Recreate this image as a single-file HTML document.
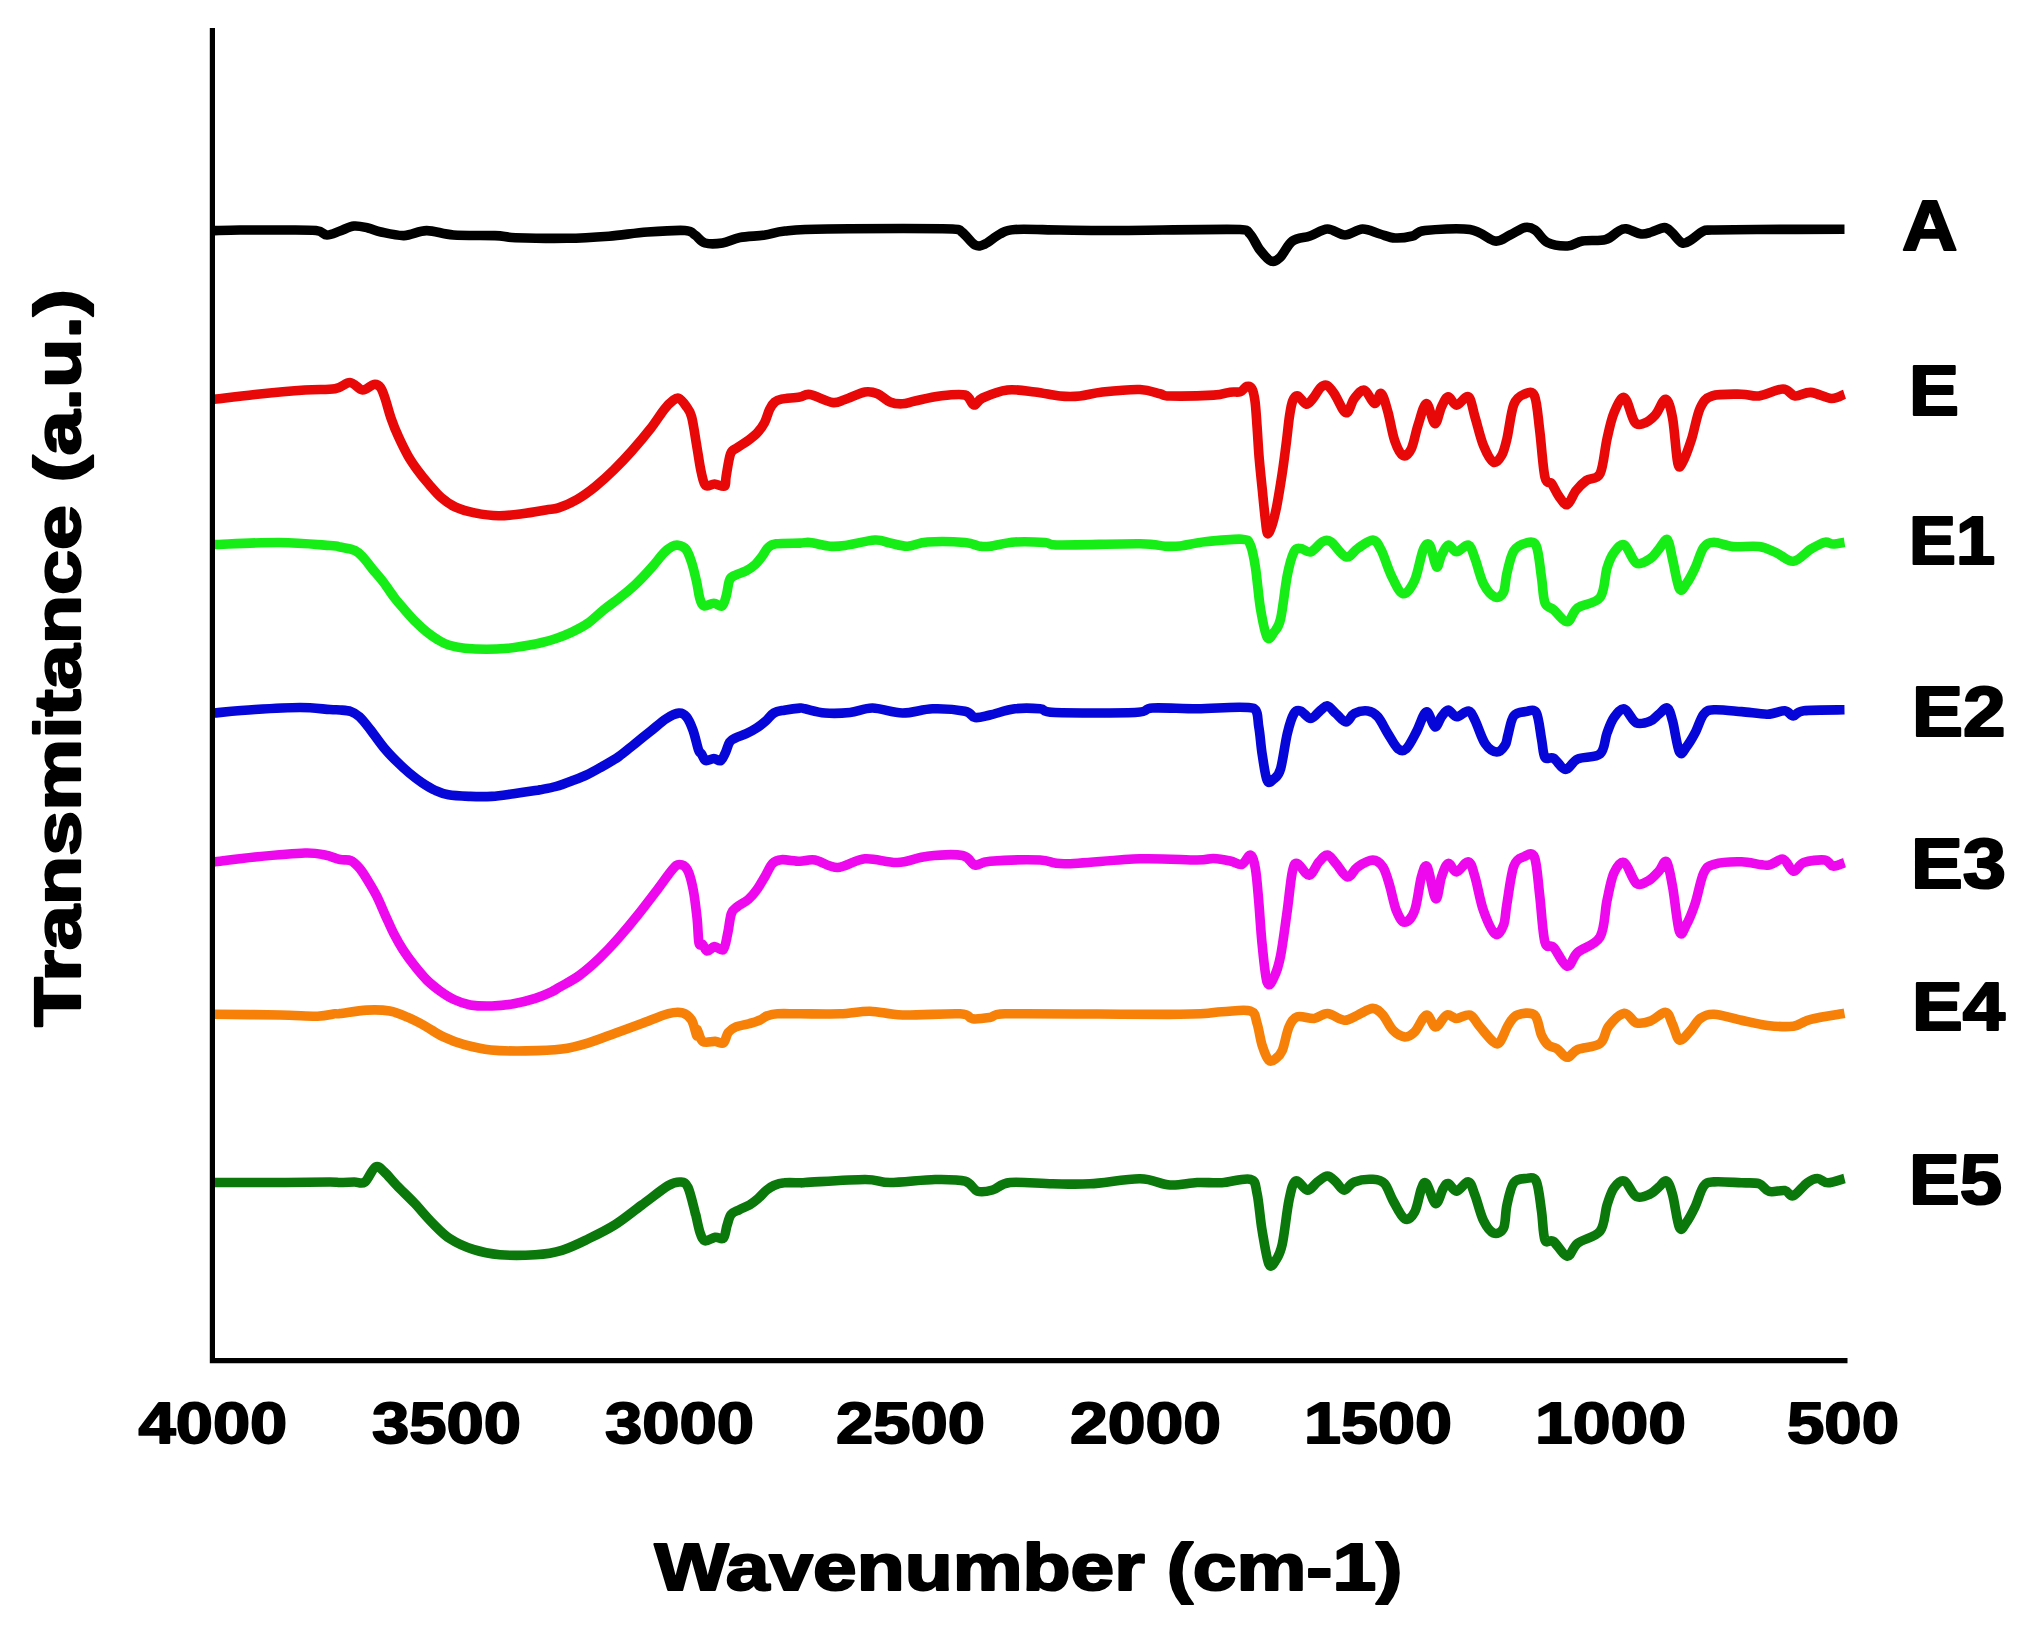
<!DOCTYPE html>
<html><head><meta charset="utf-8"><title>FTIR spectra</title>
<style>
html,body{margin:0;padding:0;background:#fff;}
body{width:2028px;height:1630px;overflow:hidden;}
svg{display:block;}
text{font-family:"Liberation Sans",Arial,sans-serif;font-weight:bold;fill:#000;stroke:#000;stroke-linejoin:round;}
</style></head><body>
<svg width="2028" height="1630" viewBox="0 0 2028 1630">
<rect width="2028" height="1630" fill="#fff"/>
<g fill="none" stroke-width="9.6" stroke-linejoin="round" stroke-linecap="butt">
<path d="M214.3 230.6 C218.6 230.5 229.1 230.1 240.0 230.0 C250.9 229.9 267.3 229.9 280.0 230.0 C292.7 230.1 308.2 229.7 316.0 230.5 C323.8 231.3 323.0 234.9 327.0 235.0 C331.0 235.1 335.5 232.5 340.0 231.0 C344.5 229.5 349.3 226.5 354.0 226.0 C358.7 225.5 363.5 227.0 368.0 228.0 C372.5 229.0 375.0 230.7 381.0 232.0 C387.0 233.3 396.4 235.8 404.0 235.6 C411.6 235.4 418.4 230.7 426.6 230.6 C434.9 230.5 442.1 234.2 453.5 235.0 C464.9 235.8 484.6 235.2 495.0 235.6 C505.4 236.0 503.6 237.2 515.6 237.7 C527.6 238.1 551.4 238.6 567.0 238.3 C582.6 238.1 595.6 237.2 609.0 236.2 C622.4 235.1 634.8 232.9 647.5 232.0 C660.2 231.1 677.1 230.0 685.0 230.5 C692.9 231.0 691.7 232.9 695.0 235.0 C698.3 237.1 700.4 241.7 705.0 243.0 C709.6 244.3 716.7 243.9 722.5 243.0 C728.3 242.1 732.9 238.8 740.0 237.5 C747.1 236.2 757.5 236.1 765.0 235.0 C772.5 233.9 774.6 232.0 785.0 231.0 C795.4 230.0 799.6 229.3 827.5 229.0 C855.4 228.7 930.0 228.4 952.5 229.0 C962.5 229.6 958.8 229.8 962.5 232.5 C966.2 235.2 971.2 243.1 975.0 245.0 C978.8 246.9 980.8 245.8 985.0 244.0 C989.2 242.2 995.0 236.4 1000.0 234.0 C1005.0 231.6 1005.0 230.2 1015.0 229.5 C1025.0 228.8 1043.0 229.8 1060.0 230.0 C1077.0 230.2 1087.0 230.6 1117.0 230.5 C1147.0 230.4 1217.8 228.9 1240.0 229.5 C1250.0 230.1 1246.7 230.6 1250.0 234.0 C1253.3 237.4 1256.5 245.5 1260.0 250.0 C1263.5 254.5 1267.7 259.8 1271.0 261.0 C1274.3 262.2 1276.4 260.8 1280.0 257.5 C1283.6 254.2 1287.5 244.6 1292.5 241.0 C1297.5 237.4 1304.2 238.0 1310.0 236.0 C1315.8 234.0 1321.7 229.2 1327.5 229.0 C1333.3 228.8 1339.2 235.0 1345.0 235.0 C1350.8 235.0 1356.7 229.2 1362.5 229.0 C1368.3 228.8 1374.6 232.5 1380.0 234.0 C1385.4 235.5 1389.6 237.7 1395.0 238.0 C1400.4 238.3 1407.5 237.2 1412.5 236.0 C1417.5 234.8 1415.4 231.6 1425.0 230.5 C1434.6 229.4 1458.3 227.8 1470.0 229.5 C1481.7 231.2 1488.3 240.1 1495.0 241.0 C1501.7 241.9 1505.0 237.2 1510.0 235.0 C1515.0 232.8 1520.8 228.3 1525.0 227.5 C1529.2 226.7 1531.2 227.5 1535.0 230.0 C1538.8 232.5 1542.1 239.8 1547.5 242.5 C1552.9 245.2 1561.7 246.2 1567.5 246.0 C1573.3 245.8 1576.2 242.1 1582.5 241.0 C1588.8 239.9 1599.5 241.3 1605.4 239.7 C1611.4 238.1 1614.8 233.2 1618.2 231.4 C1621.6 229.6 1622.2 228.4 1626.0 228.8 C1629.8 229.2 1637.0 233.5 1641.3 234.0 C1645.5 234.5 1647.7 233.1 1651.5 232.0 C1655.3 230.9 1661.0 227.5 1664.4 227.6 C1667.8 227.7 1669.0 230.1 1672.0 232.7 C1675.0 235.3 1679.1 241.8 1682.3 243.0 C1685.5 244.2 1687.9 241.6 1691.3 239.7 C1694.7 237.8 1699.4 233.0 1702.8 231.4 C1706.2 229.8 1702.8 230.3 1711.8 230.0 C1720.8 229.7 1734.6 229.6 1756.7 229.5 C1778.8 229.4 1829.9 229.2 1844.5 229.2" stroke="#000000"/>
<path d="M212.5 399.5 C219.6 398.7 239.6 396.1 255.0 394.5 C270.4 392.9 291.7 390.9 305.0 390.0 C318.3 389.1 327.5 390.1 335.0 388.8 C342.5 387.6 345.4 382.3 350.0 382.5 C354.6 382.7 358.5 389.7 362.5 390.0 C366.5 390.3 370.8 384.9 373.8 384.5 C376.8 384.1 378.6 385.0 380.5 387.4 C382.4 389.8 383.5 393.7 385.2 398.8 C386.9 403.9 388.7 411.5 390.9 417.8 C393.1 424.1 395.6 430.5 398.5 436.8 C401.4 443.1 404.8 450.2 408.0 455.8 C411.2 461.4 414.0 465.3 417.5 470.1 C421.0 474.9 425.0 479.8 429.0 484.4 C433.0 489.0 436.9 493.9 441.3 497.7 C445.7 501.5 450.1 504.7 455.6 507.2 C461.2 509.7 467.5 511.5 474.6 512.9 C481.7 514.3 490.5 515.6 498.4 515.7 C506.3 515.9 514.2 514.8 522.1 513.8 C530.0 512.8 539.9 511.0 545.9 510.0 C551.9 509.0 553.2 509.6 558.4 507.9 C563.5 506.2 570.7 503.1 576.8 499.6 C582.9 496.1 589.1 491.6 595.2 486.7 C601.3 481.8 607.5 476.2 613.6 470.2 C619.7 464.2 625.9 457.7 632.0 450.8 C638.1 443.9 645.0 435.7 650.4 428.8 C655.8 421.9 660.4 414.2 664.2 409.4 C668.0 404.6 671.0 402.0 673.4 400.2 C675.8 398.4 676.8 397.5 678.9 398.4 C681.0 399.3 683.7 402.7 685.8 405.8 C687.9 408.9 689.8 410.1 691.6 416.8 C693.4 423.5 695.2 437.0 696.8 446.2 C698.4 455.4 699.7 465.4 701.2 472.0 C702.7 478.6 703.4 483.5 705.6 485.5 C707.8 487.5 711.3 483.9 714.5 484.0 C717.7 484.1 722.8 487.3 724.8 486.0 C726.2 484.7 725.2 481.4 726.2 476.0 C727.2 470.6 728.8 458.3 730.6 453.6 C732.5 448.9 734.3 449.9 737.3 447.7 C740.2 445.5 745.0 442.8 748.3 440.3 C751.6 437.9 754.4 435.9 757.1 433.0 C759.8 430.1 762.4 426.6 764.5 422.7 C766.6 418.8 767.9 412.8 769.6 409.4 C771.3 405.9 772.8 403.7 774.8 402.0 C776.8 400.3 777.2 399.9 781.4 399.1 C785.6 398.3 795.0 397.8 799.8 397.0 C804.6 396.2 804.5 393.6 810.0 394.5 C815.5 395.4 826.7 401.7 832.5 402.5 C838.3 403.3 839.6 401.2 845.0 399.5 C850.4 397.8 859.6 392.9 865.0 392.0 C870.4 391.1 873.3 392.1 877.5 393.8 C881.7 395.5 885.8 400.3 890.0 402.0 C894.2 403.7 898.3 404.0 902.5 403.8 C906.7 403.6 908.8 402.3 915.0 401.0 C921.2 399.7 931.7 397.0 940.0 396.0 C948.3 395.0 959.4 393.5 965.0 395.0 C970.6 396.5 970.9 404.5 973.8 405.0 C976.7 405.5 976.9 400.5 982.5 398.0 C988.1 395.5 998.8 391.0 1007.5 390.0 C1016.2 389.0 1026.2 391.0 1035.0 392.0 C1043.8 393.0 1052.5 395.3 1060.0 396.0 C1067.5 396.7 1072.9 396.7 1080.0 396.0 C1087.1 395.3 1092.5 393.1 1102.5 392.0 C1112.5 390.9 1130.4 389.2 1140.0 389.5 C1149.6 389.8 1155.0 392.7 1160.0 393.8 C1165.0 394.9 1161.1 395.8 1170.0 396.0 C1178.9 396.2 1203.5 395.7 1213.5 395.1 C1223.5 394.5 1225.5 392.8 1230.0 392.2 C1234.5 391.6 1237.6 392.6 1240.4 391.7 C1243.2 390.8 1244.8 387.0 1246.7 386.5 C1248.6 386.0 1250.5 386.2 1251.9 388.6 C1253.3 391.0 1254.1 394.7 1255.0 401.1 C1255.9 407.5 1256.4 417.6 1257.1 427.1 C1257.8 436.7 1258.3 448.0 1259.2 458.4 C1260.1 468.8 1261.2 479.3 1262.3 489.7 C1263.3 500.1 1264.6 513.7 1265.5 521.0 C1266.4 528.3 1266.5 532.6 1267.5 533.5 C1268.5 534.4 1270.1 530.9 1271.7 526.2 C1273.3 521.5 1275.2 514.0 1276.9 505.3 C1278.6 496.6 1280.5 484.5 1282.1 474.1 C1283.7 463.7 1285.1 452.4 1286.3 442.8 C1287.5 433.2 1288.4 423.6 1289.4 416.7 C1290.5 409.8 1291.2 404.6 1292.6 401.1 C1294.0 397.6 1295.5 395.4 1297.8 395.9 C1300.0 396.4 1303.5 403.9 1306.1 404.2 C1308.7 404.5 1311.0 400.7 1313.4 397.9 C1315.8 395.1 1318.4 389.6 1320.7 387.5 C1323.0 385.4 1324.8 384.4 1327.0 385.4 C1329.2 386.4 1331.0 388.9 1334.2 393.5 C1337.4 398.1 1342.7 411.9 1346.0 412.7 C1349.3 413.5 1351.2 402.3 1354.3 398.5 C1357.4 394.7 1361.0 389.3 1364.4 390.1 C1367.8 390.9 1371.7 402.9 1374.5 403.5 C1377.3 404.1 1379.0 392.1 1381.2 393.5 C1383.4 394.9 1385.7 404.1 1387.9 411.9 C1390.1 419.7 1392.1 433.1 1394.6 440.4 C1397.1 447.7 1400.2 454.1 1403.0 455.5 C1405.8 456.9 1408.8 453.8 1411.3 448.8 C1413.8 443.8 1415.5 432.9 1418.0 425.3 C1420.5 417.8 1423.6 403.8 1426.4 403.5 C1429.2 403.2 1432.3 423.0 1434.8 423.6 C1437.3 424.2 1439.3 411.4 1441.5 406.9 C1443.7 402.4 1445.7 397.1 1448.2 396.8 C1450.7 396.5 1453.2 405.2 1456.6 405.2 C1460.0 405.2 1465.3 394.8 1468.4 396.8 C1471.5 398.8 1472.5 408.9 1475.0 417.0 C1477.5 425.1 1480.3 437.9 1483.4 445.4 C1486.5 452.9 1490.4 460.6 1493.5 462.2 C1496.6 463.8 1499.7 458.9 1501.9 455.0 C1504.1 451.1 1504.9 447.4 1506.9 439.0 C1508.9 430.6 1510.9 412.0 1513.8 404.5 C1516.7 397.0 1520.8 395.6 1524.2 394.2 C1527.7 392.8 1531.9 389.9 1534.5 395.9 C1537.1 401.9 1538.0 416.9 1539.7 430.4 C1541.4 443.9 1542.9 468.1 1544.9 477.0 C1546.9 485.9 1549.5 480.7 1551.8 483.9 C1554.1 487.1 1556.1 492.6 1558.7 496.0 C1561.3 499.4 1564.4 505.5 1567.3 504.6 C1570.2 503.7 1572.7 494.8 1575.9 490.8 C1579.1 486.8 1582.3 483.4 1586.3 480.5 C1590.3 477.6 1596.6 480.5 1600.1 473.6 C1603.5 466.7 1604.7 449.1 1607.0 439.0 C1609.3 428.9 1611.0 420.0 1613.9 413.1 C1616.8 406.2 1620.8 396.2 1624.3 397.6 C1627.8 399.1 1631.4 417.5 1634.6 421.8 C1637.8 426.1 1639.8 424.6 1643.3 423.5 C1646.8 422.4 1651.6 418.9 1655.3 414.9 C1659.0 410.9 1662.8 398.7 1665.7 399.3 C1668.6 399.9 1670.6 407.7 1672.6 418.3 C1674.6 428.9 1676.1 456.0 1677.8 463.2 C1679.5 470.4 1680.7 465.5 1683.0 461.5 C1685.3 457.5 1688.7 447.9 1691.6 439.0 C1694.5 430.1 1696.8 415.2 1700.2 408.0 C1703.7 400.8 1705.4 398.2 1712.3 395.9 C1719.2 393.6 1733.8 394.2 1741.6 394.2 C1749.4 394.2 1752.0 396.8 1758.9 395.9 C1765.8 395.0 1777.0 389.0 1783.0 389.0 C1789.0 389.0 1790.5 395.3 1795.1 395.9 C1799.7 396.5 1804.7 392.0 1810.7 392.4 C1816.8 392.8 1825.8 398.2 1831.4 398.5 C1837.0 398.8 1842.3 394.9 1844.5 394.2" stroke="#e80808"/>
<path d="M213.8 544.5 C224.8 544.2 260.6 542.3 280.0 542.5 C299.4 542.7 320.0 544.8 330.0 545.5 C340.0 546.2 335.8 546.1 340.0 547.0 C344.2 547.9 351.2 548.7 355.2 550.6 C359.2 552.5 361.0 555.1 363.9 558.2 C366.8 561.3 369.2 565.1 372.5 569.1 C375.8 573.1 379.8 577.4 383.4 582.1 C387.0 586.8 390.6 592.6 394.2 597.3 C397.8 602.0 401.5 606.1 405.1 610.3 C408.7 614.4 412.3 618.6 415.9 622.2 C419.5 625.8 423.2 629.1 426.8 632.0 C430.4 634.9 434.0 637.4 437.6 639.6 C441.2 641.8 444.0 643.6 448.5 645.0 C453.0 646.4 458.5 647.5 464.8 648.2 C471.1 648.9 479.3 649.3 486.5 649.3 C493.7 649.3 500.9 648.9 508.1 648.2 C515.3 647.5 524.1 646.0 529.8 645.0 C535.4 644.0 537.6 643.6 542.0 642.5 C546.4 641.4 551.0 640.2 556.0 638.5 C561.0 636.8 566.6 634.6 571.9 632.1 C577.2 629.6 582.5 627.0 587.8 623.3 C593.1 619.6 598.5 614.0 603.8 609.7 C609.1 605.5 614.4 602.0 619.7 597.8 C625.0 593.5 630.4 589.2 635.7 584.2 C641.0 579.2 647.0 572.7 651.6 567.5 C656.2 562.3 660.3 556.6 663.6 553.1 C666.9 549.6 669.2 548.0 671.6 546.7 C674.0 545.4 675.6 544.8 678.0 545.2 C680.4 545.6 683.6 546.3 685.9 549.1 C688.1 551.9 689.7 556.5 691.5 561.9 C693.3 567.3 695.2 575.6 696.6 581.8 C698.0 588.0 698.7 595.0 700.0 599.0 C701.3 603.0 701.9 605.3 704.2 606.0 C706.5 606.7 710.8 603.2 713.8 603.2 C716.8 603.2 720.0 607.3 722.1 606.0 C724.2 604.7 725.0 600.0 726.3 595.6 C727.6 591.2 728.1 583.2 729.7 579.7 C731.3 576.2 733.1 576.4 735.9 574.9 C738.7 573.4 743.1 572.4 746.3 570.7 C749.5 569.0 752.6 566.9 755.3 564.5 C757.9 562.1 760.1 559.0 762.2 556.2 C764.3 553.5 765.4 550.1 767.7 548.0 C770.0 545.9 770.6 544.6 776.0 543.8 C781.4 543.0 794.3 543.3 800.0 543.1 C805.7 542.9 805.0 542.0 810.0 542.5 C815.0 543.0 824.2 545.7 830.0 546.2 C835.8 546.7 837.5 546.5 845.0 545.5 C852.5 544.5 867.5 540.4 875.0 540.0 C882.5 539.6 884.6 542.0 890.0 543.0 C895.4 544.0 901.2 546.4 907.5 546.2 C913.8 546.0 917.9 542.6 927.5 542.0 C937.1 541.4 956.2 541.8 965.0 542.5 C973.8 543.2 975.8 545.6 980.0 546.2 C984.2 546.8 984.2 546.9 990.0 546.2 C995.8 545.5 1005.8 542.6 1015.0 542.0 C1024.2 541.4 1037.5 542.0 1045.0 542.5 C1052.5 543.0 1045.0 544.8 1060.0 545.0 C1075.8 545.2 1122.5 543.6 1140.0 543.8 C1157.5 544.0 1158.3 545.8 1165.0 546.2 C1171.7 546.6 1173.3 546.7 1180.0 546.0 C1186.7 545.3 1194.8 542.9 1205.1 541.8 C1215.4 540.7 1234.5 538.7 1242.0 539.2 C1249.5 539.8 1248.2 540.5 1250.4 545.1 C1252.6 549.7 1253.7 556.3 1255.4 566.9 C1257.1 577.5 1258.5 597.1 1260.5 608.8 C1262.5 620.5 1265.0 633.4 1267.2 637.3 C1269.4 641.2 1271.7 635.4 1273.9 632.3 C1276.1 629.2 1278.4 628.4 1280.6 618.9 C1282.8 609.4 1285.1 586.5 1287.3 575.3 C1289.5 564.1 1291.8 556.3 1294.0 551.8 C1296.2 547.3 1297.9 548.5 1300.7 548.5 C1303.5 548.5 1307.2 552.9 1310.8 551.8 C1314.4 550.7 1319.2 543.5 1322.5 541.8 C1325.8 540.1 1327.0 539.3 1330.9 541.8 C1334.8 544.3 1341.5 555.8 1346.0 556.9 C1350.5 558.0 1353.2 551.3 1357.7 548.5 C1362.2 545.7 1368.9 539.8 1372.8 540.1 C1376.7 540.4 1378.1 544.2 1381.2 550.1 C1384.3 556.0 1387.6 568.0 1391.2 575.3 C1394.8 582.6 1399.1 592.9 1403.0 593.7 C1406.9 594.5 1411.4 587.6 1414.7 580.3 C1418.0 573.0 1420.6 556.0 1423.1 550.1 C1425.6 544.2 1427.6 542.3 1429.8 545.1 C1432.0 547.9 1434.5 565.2 1436.5 566.9 C1438.5 568.6 1439.5 558.8 1441.5 555.2 C1443.5 551.6 1445.7 545.7 1448.2 545.1 C1450.7 544.5 1453.2 551.8 1456.6 551.8 C1460.0 551.8 1465.3 544.0 1468.4 545.1 C1471.5 546.2 1472.5 552.1 1475.0 558.5 C1477.5 564.9 1480.0 577.3 1483.4 583.7 C1486.8 590.1 1491.8 595.7 1495.2 597.1 C1498.6 598.5 1501.6 596.0 1503.6 592.0 C1505.5 588.0 1505.2 580.1 1506.9 573.3 C1508.6 566.4 1510.6 555.9 1513.8 550.9 C1517.0 545.9 1522.2 544.0 1525.9 543.1 C1529.6 542.2 1533.6 540.1 1536.2 545.7 C1538.8 551.3 1540.0 567.3 1541.4 576.8 C1542.9 586.3 1542.9 597.2 1544.9 602.7 C1546.9 608.2 1549.8 606.4 1553.5 609.6 C1557.2 612.8 1563.3 622.0 1567.3 621.7 C1571.3 621.4 1572.2 611.8 1577.7 607.8 C1583.2 603.8 1595.2 604.1 1600.1 597.5 C1605.0 590.9 1604.7 575.6 1607.0 568.1 C1609.3 560.6 1611.0 556.5 1613.9 552.6 C1616.8 548.7 1620.6 543.1 1624.3 544.8 C1628.0 546.5 1632.0 560.7 1636.3 563.0 C1640.6 565.3 1646.5 561.0 1650.2 558.7 C1654.0 556.4 1655.9 552.4 1658.8 549.2 C1661.7 546.0 1665.1 538.0 1667.4 539.7 C1669.7 541.4 1670.6 551.3 1672.6 559.5 C1674.6 567.7 1677.2 584.9 1679.5 588.9 C1681.8 592.9 1683.8 587.2 1686.4 583.7 C1689.0 580.2 1692.1 574.2 1695.0 568.1 C1697.9 562.0 1700.5 551.7 1703.7 547.4 C1706.9 543.1 1709.1 542.4 1714.0 542.3 C1718.9 542.2 1725.5 545.9 1733.0 546.6 C1740.5 547.3 1751.7 545.6 1758.9 546.6 C1766.1 547.6 1770.3 550.2 1776.1 552.6 C1781.8 555.0 1787.6 561.8 1793.4 561.2 C1799.2 560.6 1805.5 552.4 1810.7 549.2 C1815.9 546.1 1820.8 543.2 1824.5 542.3 C1828.2 541.4 1829.8 544.0 1833.1 544.0 C1836.4 544.0 1842.6 542.6 1844.5 542.3" stroke="#16ec16"/>
<path d="M213.8 713.0 C220.7 712.4 240.6 710.4 255.0 709.5 C269.4 708.6 287.5 707.5 300.0 707.5 C312.5 707.5 323.3 709.1 330.0 709.5 C336.7 709.9 336.5 709.7 340.0 710.0 C343.5 710.3 347.6 710.4 350.8 711.5 C354.1 712.6 356.2 713.7 359.5 716.7 C362.8 719.7 366.4 724.6 370.4 729.7 C374.4 734.8 379.1 741.9 383.4 747.1 C387.7 752.4 392.1 756.9 396.4 761.2 C400.7 765.5 405.1 769.5 409.4 773.1 C413.7 776.7 418.0 780.0 422.4 782.9 C426.8 785.8 431.1 788.5 435.5 790.5 C439.9 792.5 442.7 793.8 448.5 794.8 C454.3 795.8 463.0 796.1 470.2 796.4 C477.4 796.7 484.7 796.8 491.9 796.4 C499.1 796.0 506.4 794.7 513.6 793.7 C520.8 792.7 530.9 791.1 535.3 790.5 C539.7 789.9 536.6 790.5 540.0 789.8 C543.4 789.1 550.5 788.0 555.8 786.5 C561.1 785.0 566.4 783.0 571.6 781.0 C576.9 779.0 582.0 777.2 587.3 774.7 C592.5 772.2 597.8 769.0 603.1 766.0 C608.4 763.0 613.6 760.2 618.9 756.5 C624.2 752.8 629.4 748.1 634.7 743.9 C640.0 739.7 645.2 735.5 650.5 731.3 C655.8 727.1 661.5 721.7 666.2 718.7 C670.9 715.7 675.5 713.4 678.9 713.1 C682.3 712.8 684.3 714.2 686.7 717.1 C689.1 720.0 691.1 725.0 693.1 730.5 C695.1 736.0 697.2 746.3 698.6 750.2 C700.0 754.1 700.2 752.0 701.4 753.7 C702.6 755.4 703.5 759.8 705.6 760.6 C707.7 761.4 711.3 758.5 713.8 758.5 C716.3 758.5 718.7 761.6 720.7 760.6 C722.7 759.6 724.1 755.4 725.6 752.3 C727.1 749.2 728.0 744.3 729.7 741.9 C731.4 739.5 733.1 739.2 735.9 737.8 C738.7 736.4 742.8 735.3 746.3 733.7 C749.8 732.1 753.4 730.2 756.6 728.1 C759.8 726.0 762.7 723.7 765.6 721.2 C768.5 718.7 770.8 714.8 773.9 713.0 C777.0 711.2 779.9 711.0 784.3 710.2 C788.6 709.4 796.5 708.3 800.0 708.1 C803.5 707.9 800.8 708.0 805.0 708.8 C809.2 709.6 817.5 712.4 825.0 713.0 C832.5 713.6 842.1 713.3 850.0 712.5 C857.9 711.7 863.8 707.9 872.5 708.0 C881.2 708.1 892.5 712.9 902.5 713.0 C912.5 713.1 922.1 709.1 932.5 708.8 C942.9 708.5 957.9 709.8 965.0 711.2 C972.1 712.7 970.8 716.9 975.0 717.5 C979.2 718.1 983.3 716.5 990.0 715.0 C996.7 713.5 1006.7 709.8 1015.0 708.8 C1023.3 707.8 1033.3 708.2 1040.0 708.8 C1046.7 709.4 1040.0 711.9 1055.0 712.5 C1070.8 713.1 1118.8 713.2 1135.0 712.5 C1151.2 711.8 1142.2 708.6 1152.5 708.0 C1162.8 707.4 1180.1 708.7 1197.0 708.8 C1213.9 708.9 1243.5 705.4 1253.8 708.4 C1258.8 711.4 1257.4 719.3 1258.8 726.9 C1260.2 734.5 1260.7 744.8 1262.1 753.7 C1263.5 762.6 1265.2 776.3 1267.2 780.5 C1269.2 784.7 1271.7 780.9 1273.9 778.9 C1276.1 776.9 1278.4 776.3 1280.6 768.8 C1282.8 761.2 1285.1 742.8 1287.3 733.6 C1289.5 724.4 1291.8 717.3 1294.0 713.5 C1296.2 709.7 1297.9 710.2 1300.7 711.0 C1303.5 711.8 1307.5 718.6 1310.8 718.5 C1314.1 718.4 1318.0 712.2 1320.8 710.1 C1323.6 708.0 1325.0 705.3 1327.5 705.9 C1330.0 706.5 1332.8 710.8 1335.9 713.5 C1339.0 716.2 1342.9 721.9 1346.0 721.9 C1349.1 721.9 1350.7 715.3 1354.3 713.5 C1357.9 711.7 1363.9 710.5 1367.8 711.0 C1371.7 711.5 1374.4 713.0 1377.8 716.8 C1381.2 720.6 1384.5 728.3 1387.9 733.6 C1391.3 738.9 1394.9 746.2 1398.0 748.7 C1401.1 751.2 1403.2 751.5 1406.3 748.7 C1409.4 745.9 1413.1 738.0 1416.4 731.9 C1419.8 725.8 1423.3 712.6 1426.4 711.8 C1429.5 711.0 1432.3 726.1 1434.8 726.9 C1437.3 727.7 1439.3 719.6 1441.5 716.8 C1443.7 714.0 1445.7 710.1 1448.2 710.1 C1450.7 710.1 1453.2 716.6 1456.6 716.8 C1460.0 716.9 1465.3 710.4 1468.4 711.0 C1471.5 711.6 1472.2 714.8 1475.0 720.2 C1477.8 725.6 1481.5 738.3 1485.1 743.6 C1488.7 748.9 1493.4 751.8 1496.8 752.0 C1500.2 752.2 1503.3 747.9 1505.2 745.0 C1507.1 742.1 1506.6 739.8 1508.0 734.9 C1509.4 730.0 1510.8 719.8 1513.8 715.9 C1516.8 712.0 1522.2 712.2 1525.9 711.6 C1529.6 711.0 1533.6 708.0 1536.2 712.4 C1538.8 716.8 1540.0 730.8 1541.4 738.3 C1542.9 745.8 1542.9 754.0 1544.9 757.3 C1546.9 760.6 1550.0 756.2 1553.5 758.2 C1557.0 760.2 1561.6 769.3 1565.6 769.4 C1569.6 769.5 1572.0 761.6 1577.7 759.0 C1583.5 756.4 1595.2 758.2 1600.1 753.9 C1605.0 749.6 1604.7 739.1 1607.0 733.1 C1609.3 727.1 1611.0 721.6 1613.9 717.6 C1616.8 713.6 1620.6 708.1 1624.3 709.0 C1628.0 709.9 1632.0 720.8 1636.3 722.8 C1640.6 724.8 1646.5 722.5 1650.2 721.1 C1654.0 719.7 1655.9 716.4 1658.8 714.2 C1661.7 712.0 1665.1 707.0 1667.4 708.1 C1669.7 709.2 1670.6 713.8 1672.6 721.1 C1674.6 728.4 1677.2 747.8 1679.5 752.1 C1681.8 756.4 1683.8 750.2 1686.4 747.0 C1689.0 743.8 1692.1 738.6 1695.0 733.1 C1697.9 727.6 1700.5 718.1 1703.7 714.2 C1706.9 710.3 1707.7 710.2 1714.0 709.8 C1720.3 709.4 1732.7 710.9 1741.6 711.6 C1750.5 712.3 1760.3 714.4 1767.5 714.2 C1774.7 714.1 1780.5 710.4 1784.8 710.7 C1789.1 711.0 1790.2 715.9 1793.4 715.9 C1796.6 715.9 1795.3 711.7 1803.8 710.7 C1812.3 709.7 1837.7 709.9 1844.5 709.8" stroke="#0606d8"/>
<path d="M213.8 862.0 C220.7 861.2 239.8 858.5 255.0 857.0 C270.2 855.5 293.3 853.3 305.0 853.0 C316.7 852.7 319.2 853.9 325.0 855.0 C330.8 856.1 335.7 858.6 340.0 859.5 C344.3 860.4 347.6 859.1 350.8 860.6 C354.1 862.1 356.6 864.8 359.5 868.2 C362.4 871.6 365.3 876.5 368.2 881.2 C371.1 885.9 374.0 890.6 376.9 896.4 C379.8 902.2 382.7 909.6 385.6 915.9 C388.5 922.2 391.3 928.8 394.2 934.4 C397.1 940.0 399.6 944.5 402.9 949.6 C406.2 954.7 409.8 959.7 413.8 964.8 C417.8 969.9 422.5 975.7 426.8 980.0 C431.1 984.3 435.3 987.5 439.8 990.8 C444.3 994.0 448.8 997.1 453.9 999.5 C459.0 1001.9 463.9 1003.8 470.2 1004.9 C476.5 1006.0 484.7 1006.2 491.9 1006.0 C499.1 1005.8 506.4 1005.1 513.6 1003.8 C520.8 1002.5 529.0 1000.4 535.3 998.4 C541.6 996.4 547.5 993.8 551.5 991.9 C555.5 990.0 555.0 989.9 559.6 987.2 C564.2 984.5 572.8 980.2 579.3 975.5 C585.8 970.8 592.4 965.0 598.9 958.8 C605.4 952.6 612.0 945.6 618.5 938.2 C625.0 930.8 631.7 922.8 638.2 914.6 C644.8 906.4 652.1 896.6 657.8 889.1 C663.5 881.6 668.9 873.5 672.5 869.4 C676.1 865.3 676.9 864.5 679.4 864.5 C681.9 864.5 684.9 865.3 687.2 869.4 C689.5 873.5 691.5 880.9 693.1 889.1 C694.8 897.3 696.1 909.5 697.1 918.5 C698.1 927.5 698.1 938.8 699.0 943.1 C699.9 947.4 701.4 943.1 702.7 944.4 C704.1 945.7 705.1 950.6 707.1 951.0 C709.1 951.4 711.8 946.9 714.5 946.6 C717.2 946.4 721.1 951.7 723.3 949.5 C725.5 947.3 726.4 939.3 727.7 933.3 C729.1 927.3 729.8 917.9 731.4 913.5 C733.0 909.1 734.5 909.1 737.3 906.8 C740.1 904.5 745.0 902.4 748.3 899.5 C751.6 896.6 754.4 893.1 757.2 889.2 C760.0 885.3 762.7 880.2 765.3 875.9 C767.9 871.6 769.9 866.1 772.6 863.4 C775.3 860.7 776.9 860.1 781.4 859.7 C785.9 859.3 794.2 861.2 799.8 861.2 C805.4 861.2 808.7 859.0 815.0 860.0 C821.3 861.0 829.2 867.7 837.5 867.5 C845.8 867.3 855.0 859.6 865.0 858.8 C875.0 858.0 887.1 862.9 897.5 862.5 C907.9 862.1 916.7 857.4 927.5 856.2 C938.3 855.0 954.6 854.0 962.5 855.5 C970.4 857.0 970.4 864.0 975.0 865.0 C979.6 866.0 979.2 862.0 990.0 861.2 C1000.8 860.4 1027.5 859.6 1040.0 860.0 C1052.5 860.4 1048.3 864.0 1065.0 863.8 C1081.7 863.6 1118.0 859.4 1140.0 858.8 C1162.0 858.2 1184.8 860.0 1197.0 860.0 C1209.2 860.0 1208.0 858.3 1213.5 858.5 C1219.0 858.7 1225.5 860.0 1230.3 861.0 C1235.0 862.0 1238.7 865.3 1242.0 864.3 C1245.3 863.3 1248.2 854.4 1250.4 855.1 C1252.6 855.8 1254.0 860.7 1255.4 868.5 C1256.8 876.3 1257.7 889.5 1258.8 902.1 C1259.9 914.7 1260.7 930.6 1262.1 944.0 C1263.5 957.4 1265.2 976.9 1267.2 982.5 C1269.2 988.1 1271.7 982.0 1273.9 977.5 C1276.1 973.0 1278.4 966.9 1280.6 955.7 C1282.8 944.5 1285.3 924.4 1287.3 910.4 C1289.2 896.4 1290.6 879.7 1292.3 871.9 C1294.0 864.1 1294.5 863.0 1297.3 863.5 C1300.1 864.0 1305.5 875.5 1309.1 875.2 C1312.7 874.9 1316.0 865.1 1319.1 861.8 C1322.2 858.4 1324.7 854.8 1327.5 855.1 C1330.3 855.4 1332.6 859.9 1335.9 863.5 C1339.2 867.1 1344.0 876.3 1347.6 876.9 C1351.2 877.5 1353.5 869.7 1357.7 866.9 C1361.9 864.1 1368.6 860.1 1372.8 860.1 C1377.0 860.1 1380.1 862.7 1382.9 866.9 C1385.7 871.1 1387.4 878.0 1389.6 885.3 C1391.8 892.5 1393.8 904.2 1396.3 910.4 C1398.8 916.5 1401.5 922.2 1404.6 922.2 C1407.7 922.2 1411.9 918.0 1414.7 910.4 C1417.5 902.8 1419.3 884.1 1421.4 876.9 C1423.5 869.6 1424.9 863.3 1427.3 866.9 C1429.7 870.5 1433.3 897.0 1435.7 898.7 C1438.1 900.4 1439.4 882.8 1441.5 876.9 C1443.6 871.0 1445.7 864.3 1448.2 863.5 C1450.7 862.7 1453.2 872.2 1456.6 871.9 C1460.0 871.6 1465.3 861.0 1468.4 861.8 C1471.5 862.6 1472.5 868.8 1475.0 876.9 C1477.5 885.0 1480.0 900.9 1483.4 910.4 C1486.8 919.9 1491.8 931.5 1495.2 933.9 C1498.6 936.3 1501.6 930.0 1503.6 925.0 C1505.5 920.0 1505.2 913.8 1506.9 904.0 C1508.6 894.2 1510.9 874.0 1513.8 866.1 C1516.7 858.2 1520.8 858.1 1524.2 856.6 C1527.7 855.1 1531.9 850.9 1534.5 857.4 C1537.1 863.9 1538.0 881.3 1539.7 895.4 C1541.4 909.5 1542.6 933.4 1544.9 942.0 C1547.2 950.6 1549.8 943.2 1553.5 947.2 C1557.2 951.2 1563.3 965.3 1567.3 966.2 C1571.3 967.1 1572.2 957.3 1577.7 952.4 C1583.2 947.5 1595.2 945.4 1600.1 936.8 C1605.0 928.2 1604.7 911.2 1607.0 900.6 C1609.3 890.0 1611.0 879.3 1613.9 873.0 C1616.8 866.7 1620.6 860.9 1624.3 862.6 C1628.0 864.3 1632.3 880.3 1636.3 883.3 C1640.3 886.3 1644.7 882.7 1648.4 880.7 C1652.2 878.7 1655.8 874.4 1658.8 871.2 C1661.8 868.1 1664.3 859.2 1666.6 861.8 C1668.9 864.4 1670.4 875.1 1672.6 886.8 C1674.8 898.4 1677.2 925.4 1679.5 931.7 C1681.8 938.0 1683.8 929.3 1686.4 924.7 C1689.0 920.1 1692.1 912.6 1695.0 904.0 C1697.9 895.4 1700.5 879.6 1703.7 873.0 C1706.9 866.4 1707.7 866.2 1714.0 864.3 C1720.3 862.4 1732.7 861.6 1741.6 861.8 C1750.5 861.9 1760.6 865.6 1767.5 865.2 C1774.4 864.8 1778.7 858.2 1783.0 859.2 C1787.3 860.2 1789.9 870.6 1793.4 871.2 C1796.9 871.8 1798.6 864.5 1803.8 862.6 C1809.0 860.7 1819.6 859.4 1824.5 860.0 C1829.4 860.6 1829.8 865.7 1833.1 866.1 C1836.4 866.5 1842.6 863.2 1844.5 862.6" stroke="#ee08ee"/>
<path d="M213.8 1014.2 C224.8 1014.3 262.7 1014.7 280.0 1015.0 C297.3 1015.3 308.3 1016.4 317.5 1016.2 C326.7 1016.0 331.2 1014.2 335.0 1013.8 C338.8 1013.4 335.0 1014.2 340.0 1013.6 C345.3 1013.0 358.3 1010.5 366.6 1010.1 C374.9 1009.7 382.9 1009.8 389.7 1011.0 C396.5 1012.2 401.6 1014.7 407.5 1017.2 C413.4 1019.7 419.3 1022.8 425.2 1026.1 C431.1 1029.3 436.5 1033.6 443.0 1036.7 C449.5 1039.8 456.3 1042.5 464.3 1044.7 C472.3 1046.9 480.5 1049.0 490.9 1050.0 C501.2 1051.0 514.6 1051.1 526.4 1050.9 C538.2 1050.8 551.5 1050.4 561.9 1049.1 C572.2 1047.8 579.6 1045.6 588.5 1042.9 C597.4 1040.2 606.3 1036.5 615.2 1033.2 C624.1 1030.0 632.9 1026.7 641.8 1023.4 C650.7 1020.1 661.6 1015.4 668.4 1013.6 C675.2 1011.8 678.8 1011.8 682.6 1012.8 C686.5 1013.8 689.1 1016.1 691.5 1019.9 C693.9 1023.7 695.8 1034.2 696.8 1035.8 C697.3 1037.4 696.8 1028.8 697.3 1029.7 C698.3 1030.6 699.8 1039.5 702.8 1041.4 C705.8 1043.4 711.8 1041.2 715.2 1041.4 C718.7 1041.6 721.3 1044.3 723.5 1042.8 C725.7 1041.3 726.2 1035.1 728.3 1032.4 C730.4 1029.8 732.3 1028.4 735.9 1026.9 C739.5 1025.4 745.7 1024.7 749.7 1023.5 C753.7 1022.4 757.2 1021.3 760.1 1020.0 C763.0 1018.7 764.1 1016.9 767.0 1015.9 C769.9 1014.9 771.9 1014.1 777.4 1013.8 C782.9 1013.4 789.6 1013.8 800.0 1013.8 C810.4 1013.8 828.3 1014.2 840.0 1013.8 C851.7 1013.4 859.6 1011.0 870.0 1011.2 C880.4 1011.4 887.5 1014.6 902.5 1015.0 C917.5 1015.4 948.3 1013.2 960.0 1013.8 C971.7 1014.4 967.5 1018.2 972.5 1018.8 C977.5 1019.4 984.6 1018.3 990.0 1017.5 C995.4 1016.7 990.0 1014.3 1005.0 1013.8 C1036.7 1013.3 1143.8 1014.6 1180.0 1014.3 C1216.2 1014.0 1210.2 1012.3 1221.9 1011.8 C1233.6 1011.2 1244.5 1009.0 1250.4 1011.0 C1256.3 1013.0 1255.1 1017.8 1257.1 1023.5 C1259.0 1029.2 1260.1 1039.1 1262.1 1045.3 C1264.1 1051.5 1266.7 1058.2 1268.9 1060.4 C1271.2 1062.6 1273.4 1060.4 1275.6 1058.7 C1277.8 1057.0 1280.1 1055.7 1282.3 1050.4 C1284.5 1045.1 1286.5 1032.5 1289.0 1026.9 C1291.5 1021.3 1293.1 1018.2 1297.3 1016.8 C1301.5 1015.4 1309.1 1019.0 1314.1 1018.5 C1319.1 1018.0 1322.5 1013.2 1327.5 1013.5 C1332.5 1013.8 1339.3 1019.9 1344.3 1020.2 C1349.3 1020.5 1353.0 1017.1 1357.7 1015.1 C1362.5 1013.1 1368.6 1008.4 1372.8 1008.4 C1377.0 1008.4 1379.6 1011.5 1382.9 1015.1 C1386.2 1018.7 1389.3 1026.6 1392.9 1030.2 C1396.5 1033.8 1401.0 1036.6 1404.6 1036.9 C1408.2 1037.2 1411.1 1035.5 1414.7 1031.9 C1418.3 1028.3 1422.9 1015.9 1426.4 1015.1 C1429.9 1014.3 1432.3 1026.9 1435.7 1026.9 C1439.1 1026.9 1443.1 1016.5 1446.6 1015.1 C1450.1 1013.7 1452.7 1018.5 1456.6 1018.5 C1460.5 1018.5 1466.1 1013.7 1470.0 1015.1 C1473.9 1016.5 1476.2 1022.4 1480.1 1026.9 C1484.0 1031.4 1490.2 1039.5 1493.5 1042.0 C1496.8 1044.5 1497.5 1044.7 1500.0 1041.8 C1502.5 1038.9 1505.7 1029.0 1508.6 1024.5 C1511.5 1020.0 1513.0 1016.6 1517.3 1015.0 C1521.6 1013.4 1530.5 1011.7 1534.5 1015.0 C1538.5 1018.3 1539.1 1029.9 1541.4 1034.9 C1543.7 1039.9 1545.7 1042.9 1548.3 1045.2 C1550.9 1047.5 1553.8 1046.7 1557.0 1048.7 C1560.2 1050.7 1563.8 1057.2 1567.3 1057.3 C1570.8 1057.4 1572.2 1051.8 1577.7 1049.5 C1583.2 1047.2 1594.9 1047.4 1600.1 1043.5 C1605.3 1039.6 1604.7 1031.2 1608.7 1026.2 C1612.7 1021.2 1619.7 1013.9 1624.3 1013.3 C1628.9 1012.7 1632.0 1021.5 1636.3 1022.8 C1640.6 1024.1 1645.3 1022.8 1650.2 1021.1 C1655.1 1019.4 1662.0 1011.8 1665.7 1012.4 C1669.4 1013.0 1670.3 1019.9 1672.6 1024.5 C1674.9 1029.1 1676.6 1038.8 1679.5 1040.0 C1682.4 1041.2 1686.5 1035.0 1689.9 1031.4 C1693.4 1027.8 1696.2 1021.4 1700.2 1018.5 C1704.2 1015.6 1707.1 1013.9 1714.0 1014.2 C1720.9 1014.5 1732.7 1018.3 1741.6 1020.2 C1750.5 1022.1 1758.9 1024.4 1767.5 1025.4 C1776.1 1026.4 1786.2 1027.2 1793.4 1026.2 C1800.6 1025.2 1802.2 1021.4 1810.7 1019.3 C1819.2 1017.1 1838.9 1014.3 1844.5 1013.3" stroke="#f68008"/>
<path d="M213.8 1182.5 C224.8 1182.5 260.6 1182.6 280.0 1182.5 C299.4 1182.4 320.0 1182.0 330.0 1182.0 C340.0 1182.0 336.0 1182.5 340.0 1182.5 C344.0 1182.5 350.1 1182.1 354.2 1182.0 C358.3 1181.9 361.3 1184.5 364.9 1182.0 C368.4 1179.5 372.2 1168.6 375.5 1166.9 C378.8 1165.2 380.8 1168.9 384.4 1172.0 C387.9 1175.1 391.8 1180.3 396.8 1185.5 C401.8 1190.7 408.7 1197.1 414.6 1203.3 C420.5 1209.5 426.4 1216.9 432.3 1222.8 C438.2 1228.7 443.3 1234.4 450.1 1238.8 C456.9 1243.2 464.8 1246.8 473.1 1249.4 C481.4 1252.1 489.4 1253.8 499.8 1254.7 C510.2 1255.6 524.9 1255.4 535.3 1254.7 C545.6 1254.0 553.0 1253.0 561.9 1250.3 C570.8 1247.6 579.6 1243.1 588.5 1238.8 C597.4 1234.5 606.3 1230.2 615.2 1224.6 C624.1 1219.0 632.9 1211.5 641.8 1205.0 C650.7 1198.5 661.9 1189.3 668.4 1185.5 C674.9 1181.7 677.5 1181.7 680.8 1182.0 C684.1 1182.3 685.6 1182.3 688.0 1187.3 C690.4 1192.3 693.7 1207.4 695.0 1212.1 C695.9 1216.8 695.1 1211.8 695.9 1215.2 C696.7 1218.6 698.5 1228.2 700.0 1232.5 C701.5 1236.8 702.4 1240.0 704.9 1240.8 C707.4 1241.6 712.1 1237.8 715.2 1237.3 C718.3 1236.8 721.5 1240.0 723.5 1238.0 C725.5 1236.0 725.7 1229.5 727.0 1225.6 C728.3 1221.7 729.0 1217.2 731.1 1214.5 C733.2 1211.8 736.3 1211.3 739.4 1209.7 C742.5 1208.1 746.6 1206.7 749.7 1204.9 C752.8 1203.1 755.2 1201.1 758.0 1198.7 C760.8 1196.3 763.6 1192.6 766.3 1190.4 C768.9 1188.2 770.9 1186.8 773.9 1185.5 C776.9 1184.2 779.9 1183.2 784.3 1182.8 C788.6 1182.3 796.5 1182.8 800.0 1182.8 C803.5 1182.8 800.0 1183.0 805.0 1182.5 C815.8 1182.0 850.8 1179.5 865.0 1179.5 C879.2 1179.5 878.3 1182.5 890.0 1182.5 C901.7 1182.5 922.5 1179.7 935.0 1179.5 C947.5 1179.3 957.9 1179.2 965.0 1181.2 C972.1 1183.2 972.9 1189.7 977.5 1191.2 C982.1 1192.7 987.1 1191.5 992.5 1190.0 C997.9 1188.5 1000.0 1183.5 1010.0 1182.5 C1020.0 1181.5 1039.2 1183.6 1052.5 1183.8 C1065.8 1184.0 1075.4 1184.6 1090.0 1183.8 C1104.6 1183.0 1126.7 1178.6 1140.0 1178.8 C1153.3 1179.0 1160.5 1184.4 1170.0 1185.0 C1179.5 1185.6 1188.3 1182.9 1197.0 1182.5 C1205.7 1182.1 1213.0 1183.2 1221.9 1182.7 C1230.8 1182.2 1244.5 1177.5 1250.4 1179.3 C1256.3 1181.1 1255.1 1185.1 1257.1 1193.6 C1259.0 1202.1 1260.1 1218.8 1262.1 1230.5 C1264.1 1242.2 1266.7 1259.0 1268.9 1264.0 C1271.2 1269.0 1273.4 1263.9 1275.6 1260.6 C1277.8 1257.2 1280.1 1254.0 1282.3 1243.9 C1284.5 1233.9 1286.8 1210.8 1289.0 1200.3 C1291.2 1189.8 1292.6 1182.7 1295.7 1181.0 C1298.8 1179.3 1303.8 1190.0 1307.4 1190.2 C1311.0 1190.4 1314.2 1184.3 1317.5 1181.9 C1320.8 1179.5 1324.4 1176.0 1327.5 1176.0 C1330.6 1176.0 1333.1 1179.5 1335.9 1181.9 C1338.7 1184.3 1341.2 1190.2 1344.3 1190.2 C1347.4 1190.2 1349.5 1183.7 1354.3 1181.9 C1359.0 1180.1 1367.8 1179.0 1372.8 1179.3 C1377.8 1179.6 1381.2 1180.0 1384.5 1183.5 C1387.8 1187.0 1389.6 1194.4 1392.9 1200.3 C1396.2 1206.2 1401.0 1216.8 1404.6 1218.7 C1408.2 1220.7 1411.9 1217.0 1414.7 1212.0 C1417.5 1207.0 1419.5 1193.3 1421.4 1188.6 C1423.4 1183.8 1424.0 1181.0 1426.4 1183.5 C1428.8 1186.0 1432.9 1202.8 1435.7 1203.6 C1438.5 1204.4 1441.1 1191.9 1443.2 1188.6 C1445.3 1185.2 1446.0 1183.1 1448.2 1183.5 C1450.4 1183.9 1453.2 1191.4 1456.6 1191.1 C1460.0 1190.8 1465.3 1181.2 1468.4 1181.9 C1471.5 1182.6 1472.5 1188.9 1475.0 1195.3 C1477.5 1201.7 1480.3 1214.1 1483.4 1220.4 C1486.5 1226.7 1490.1 1231.7 1493.5 1233.0 C1496.9 1234.3 1501.4 1232.6 1503.6 1228.0 C1505.8 1223.4 1505.2 1212.7 1506.9 1205.2 C1508.6 1197.7 1510.6 1187.2 1513.8 1182.8 C1517.0 1178.3 1522.2 1178.8 1525.9 1178.5 C1529.6 1178.2 1533.6 1175.8 1536.2 1181.1 C1538.8 1186.4 1540.0 1200.6 1541.4 1210.4 C1542.9 1220.2 1542.9 1234.5 1544.9 1239.7 C1546.9 1244.9 1549.8 1238.8 1553.5 1241.5 C1557.2 1244.2 1563.3 1255.8 1567.3 1256.1 C1571.3 1256.4 1572.2 1247.4 1577.7 1243.2 C1583.2 1239.0 1595.2 1237.4 1600.1 1231.1 C1605.0 1224.8 1604.7 1212.4 1607.0 1205.2 C1609.3 1198.0 1611.0 1192.0 1613.9 1188.0 C1616.8 1184.0 1620.6 1179.7 1624.3 1181.1 C1628.0 1182.5 1632.0 1194.4 1636.3 1196.6 C1640.6 1198.8 1646.5 1195.6 1650.2 1194.0 C1654.0 1192.4 1656.1 1189.2 1658.8 1187.1 C1661.5 1184.9 1664.3 1179.8 1666.6 1181.1 C1668.9 1182.4 1670.4 1187.1 1672.6 1194.9 C1674.8 1202.7 1677.2 1223.1 1679.5 1227.7 C1681.8 1232.3 1683.8 1226.0 1686.4 1222.5 C1689.0 1219.0 1692.1 1213.0 1695.0 1207.0 C1697.9 1201.0 1700.5 1190.4 1703.7 1186.2 C1706.9 1182.0 1707.7 1182.5 1714.0 1181.9 C1720.3 1181.3 1734.1 1182.5 1741.6 1182.8 C1749.1 1183.1 1754.3 1182.3 1758.9 1183.7 C1763.5 1185.1 1764.9 1190.2 1769.2 1191.4 C1773.5 1192.6 1780.8 1189.9 1784.8 1190.6 C1788.8 1191.3 1789.7 1197.0 1793.4 1195.7 C1797.1 1194.4 1803.2 1185.7 1807.2 1182.8 C1811.2 1179.9 1814.1 1178.5 1817.6 1178.5 C1821.0 1178.5 1823.4 1182.8 1827.9 1182.8 C1832.4 1182.8 1841.7 1179.2 1844.5 1178.5" stroke="#0b780b"/>
</g>
<path d="M212.4 28 V1360.7 H1847.5" fill="none" stroke="#000" stroke-width="5.2"/>
<text x="138.6" y="1443.4" font-size="57.6" stroke-width="1.8" textLength="148.7" lengthAdjust="spacingAndGlyphs">4000</text>
<text x="372.0" y="1443.4" font-size="57.6" stroke-width="1.8" textLength="149.0" lengthAdjust="spacingAndGlyphs">3500</text>
<text x="605.0" y="1443.4" font-size="57.6" stroke-width="1.8" textLength="149.0" lengthAdjust="spacingAndGlyphs">3000</text>
<text x="836.0" y="1443.4" font-size="57.6" stroke-width="1.8" textLength="149.0" lengthAdjust="spacingAndGlyphs">2500</text>
<text x="1070.0" y="1443.4" font-size="57.6" stroke-width="1.8" textLength="151.0" lengthAdjust="spacingAndGlyphs">2000</text>
<text x="1304.0" y="1443.4" font-size="57.6" stroke-width="1.8" textLength="148.0" lengthAdjust="spacingAndGlyphs">1500</text>
<text x="1535.0" y="1443.4" font-size="57.6" stroke-width="1.8" textLength="151.0" lengthAdjust="spacingAndGlyphs">1000</text>
<text x="1787.0" y="1443.4" font-size="57.6" stroke-width="1.8" textLength="112.0" lengthAdjust="spacingAndGlyphs">500</text>
<text x="1902.0" y="250.0" font-size="70.4" stroke-width="2.2" textLength="55.5" lengthAdjust="spacingAndGlyphs">A</text>
<text x="1909.0" y="414.5" font-size="70.4" stroke-width="2.2" textLength="50.0" lengthAdjust="spacingAndGlyphs">E</text>
<text x="1909.0" y="563.6" font-size="68.0" stroke-width="2.2" textLength="86.0" lengthAdjust="spacingAndGlyphs">E1</text>
<text x="1912.0" y="736.0" font-size="70.4" stroke-width="2.2" textLength="93.5" lengthAdjust="spacingAndGlyphs">E2</text>
<text x="1911.0" y="888.0" font-size="70.3" stroke-width="2.2" textLength="95.0" lengthAdjust="spacingAndGlyphs">E3</text>
<text x="1912.0" y="1030.0" font-size="68.9" stroke-width="2.2" textLength="93.0" lengthAdjust="spacingAndGlyphs">E4</text>
<text x="1909.0" y="1204.0" font-size="70.4" stroke-width="2.2" textLength="93.0" lengthAdjust="spacingAndGlyphs">E5</text>
<text x="654.4" y="1589.6" font-size="67.1" stroke-width="2.2" textLength="748.0" lengthAdjust="spacingAndGlyphs">Wavenumber (cm-1)</text>
<text x="80.5" y="1026.8" font-size="65.0" stroke-width="2.2" textLength="737.8" lengthAdjust="spacingAndGlyphs" transform="rotate(-90 80.5 1026.8)">Transmitance (a.u.)</text>
</svg>
</body></html>
